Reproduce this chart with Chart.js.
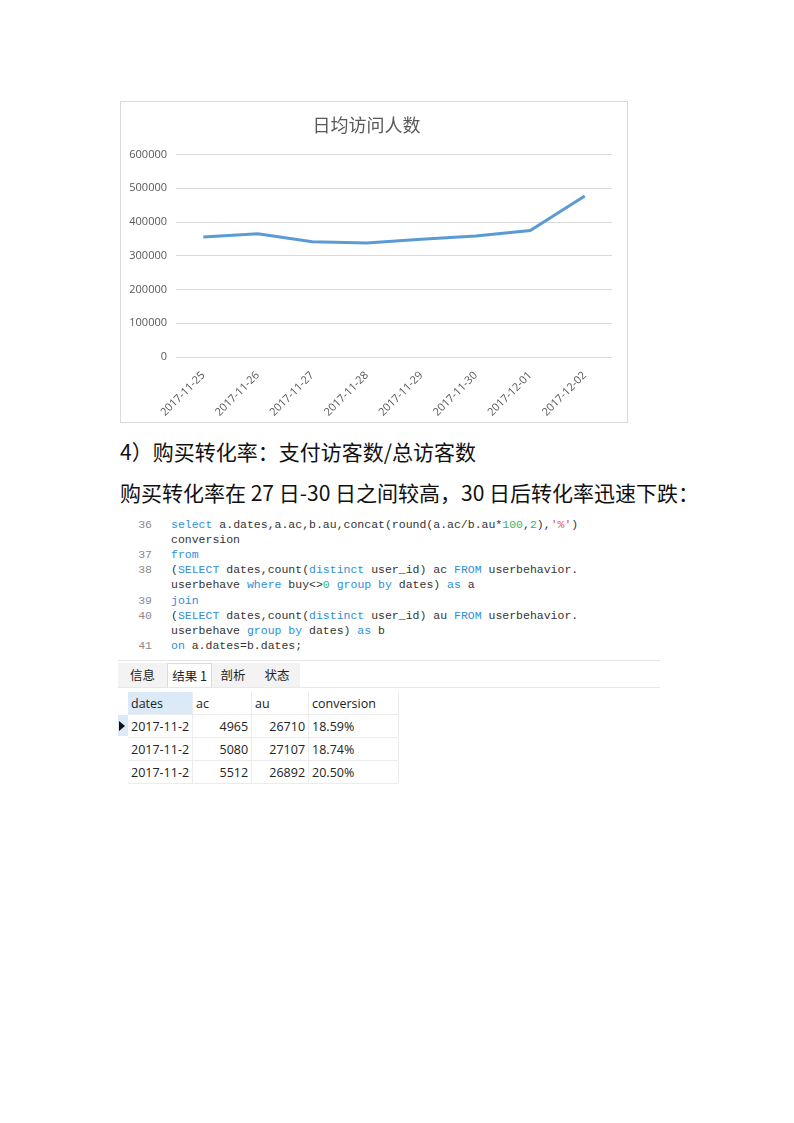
<!DOCTYPE html>
<html lang="zh">
<head>
<meta charset="utf-8">
<script src="https://cdn.jsdelivr.net/npm/chart.js@4"></script>
<style>
  body { margin: 0; background: #fff; width: 794px; height: 1123px; position: relative; overflow: hidden; }
  .abs { position: absolute; }
  #chartBox { left: 120px; top: 101px; width: 506px; height: 320px; border: 1px solid #d9d9d9; }
  .para { left: 120px; font-family: "Noto Sans CJK SC", sans-serif; font-size: 21px; line-height: 28px; color: #111; white-space: nowrap; }
  #code { left: 118px; top: 518px; width: 542px; font-family: "Liberation Mono", monospace; font-size: 11.5px; color: #333; }
  #code .ln { position: absolute; left: 0; width: 34px; text-align: right; color: #8a8a8a; }
  #code .tx { position: absolute; left: 53px; white-space: pre; }
  .kw { color: #2f8fd8; } .num { color: #34b36b; } .str { color: #e0506e; }
  #sep { left: 118px; top: 660px; width: 542px; height: 1px; background: #e6e6e6; }
  #tabs { left: 118px; top: 663px; height: 24px; font-family: "Noto Sans CJK SC", sans-serif; font-size: 12.5px; color: #222; }
  #tabLine { left: 118px; top: 687px; width: 542px; height: 1px; background: #e8e8e8; }
  .tab { position: absolute; top: 0; height: 24px; line-height: 24px; text-align: center; background: #f3f3f3; }
  .tab.on { background: #fff; border-left: 1px solid #dcdcdc; border-right: 1px solid #dcdcdc; border-top: 1px solid #dcdcdc; box-sizing: border-box; height: 25px; }
  table { position: absolute; left: 128px; top: 692px; border-collapse: collapse; font-family: "Open Sans", "Noto Sans CJK SC", sans-serif; font-size: 12.5px; color: #222; }
  td { height: 22px; padding: 0 3px; border-bottom: 1px solid #ececec; border-right: 1px solid #ececec; white-space: nowrap; }
  td.r { text-align: right; }
  #marker { left: 118px; top: 715px; width: 10px; height: 21px; background: #dce9f6; }
</style>
</head>
<body>
<div id="chartBox" class="abs"><canvas id="chart"></canvas></div>

<div class="abs para" style="top:437px">4）购买转化率：支付访客数/总访客数</div>
<div class="abs para" style="top:478px">购买转化率在 27 日-30 日之间较高，30 日后转化率迅速下跌：</div>

<div id="code" class="abs"></div>
<div id="sep" class="abs"></div>
<div id="tabs" class="abs"></div>
<div id="tabLine" class="abs"></div>
<div id="marker" class="abs"></div>
<table id="result"></table>

<script>
// chart data
const dates = ['2017-11-25', '2017-11-26', '2017-11-27', '2017-11-28', '2017-11-29', '2017-11-30', '2017-12-01', '2017-12-02'];
const visitors = [356000, 365000, 342000, 338000, 349000, 359000, 375000, 477000];
const yMax = 600000;
const yStep = 100000;

// result table
const colNames = ['dates', 'ac', 'au', 'conversion'];
const rowDates = ['2017-11-2', '2017-11-2', '2017-11-2'];
const rowAc = [4965, 5080, 5512];
const rowAu = [26710, 27107, 26892];
const rowConv = ['18.59%', '18.74%', '20.50%'];

const codeLines = [
  ['36', '<span class="kw">select</span> a.dates,a.ac,b.au,concat(round(a.ac/b.au*<span class="num">100</span>,<span class="num">2</span>),<span class="str">\'%\'</span>)'],
  ['', 'conversion'],
  ['37', '<span class="kw">from</span>'],
  ['38', '(<span class="kw">SELECT</span> dates,count(<span class="kw">distinct</span> user_id) ac <span class="kw">FROM</span> userbehavior.'],
  ['', 'userbehave <span class="kw">where</span> buy&lt;&gt;<span class="num">0</span> <span class="kw">group by</span> dates) <span class="kw">as</span> a'],
  ['39', '<span class="kw">join</span>'],
  ['40', '(<span class="kw">SELECT</span> dates,count(<span class="kw">distinct</span> user_id) au <span class="kw">FROM</span> userbehavior.'],
  ['', 'userbehave <span class="kw">group by</span> dates) <span class="kw">as</span> b'],
  ['41', '<span class="kw">on</span> a.dates=b.dates;']
];

document.getElementById('code').innerHTML = codeLines.map((l, i) =>
  `<div class="ln" style="top:${i * 15.1}px">${l[0]}</div><div class="tx" style="top:${i * 15.1}px">${l[1]}</div>`
).join('');

const tabs = [['信息', 0, 49], ['结果 1', 49, 45], ['剖析', 94, 42], ['状态', 136, 46]];
document.getElementById('tabs').innerHTML = tabs.map((t, i) =>
  `<div class="tab${i === 1 ? ' on' : ''}" style="left:${t[1]}px;width:${t[2]}px">${t[0]}</div>`
).join('');

const widths = [64, 59, 57, 90];
let html = '<tr>' + colNames.map((c, i) => `<td style="width:${widths[i] - 7}px${i === 0 ? ';background:#dce9f6' : ''}">${c}</td>`).join('') + '</tr>';
rowDates.forEach((d, i) => {
  html += `<tr><td>${d}</td><td class="r">${rowAc[i]}</td><td class="r">${rowAu[i]}</td><td>${rowConv[i]}</td></tr>`;
});
document.getElementById('result').innerHTML = html;
document.getElementById('marker').innerHTML = '<div style="position:absolute;left:1px;top:6px;width:0;height:0;border-top:5px solid transparent;border-bottom:5px solid transparent;border-left:6px solid #111"></div>';

const gray = '#595959';
new Chart(document.getElementById('chart').getContext('2d'), {
  type: 'line',
  data: {
    labels: dates,
    datasets: [{ data: visitors, borderColor: '#5b9bd5', borderWidth: 3, pointRadius: 0, tension: 0, fill: false }]
  },
  options: {
    responsive: true,
    maintainAspectRatio: false,
    animation: false,
    layout: { padding: { left: 0, right: 15, bottom: 2 } },
    plugins: {
      legend: { display: false },
      tooltip: { enabled: false },
      title: {
        display: true, text: '日均访问人数', color: gray,
        font: { family: '"Noto Sans CJK SC", sans-serif', size: 18, weight: 'normal' },
        padding: { top: 12, bottom: 19 }
      }
    },
    scales: {
      x: {
        offset: true,
        grid: { display: false, drawTicks: false },
        border: { display: false },
        afterFit: s => { s.height = 63; },
        ticks: { color: gray, font: { family: '"Open Sans", sans-serif', size: 11 }, minRotation: 45, maxRotation: 45, padding: 12 }
      },
      y: {
        min: 0, max: yMax,
        afterFit: s => { s.width = 55; },
        grid: { color: '#d9d9d9', drawTicks: false },
        border: { display: false },
        ticks: { stepSize: yStep, color: gray, font: { family: '"Open Sans", sans-serif', size: 11 }, padding: 9, callback: v => String(v) }
      }
    }
  }
});
</script>
</body>
</html>
